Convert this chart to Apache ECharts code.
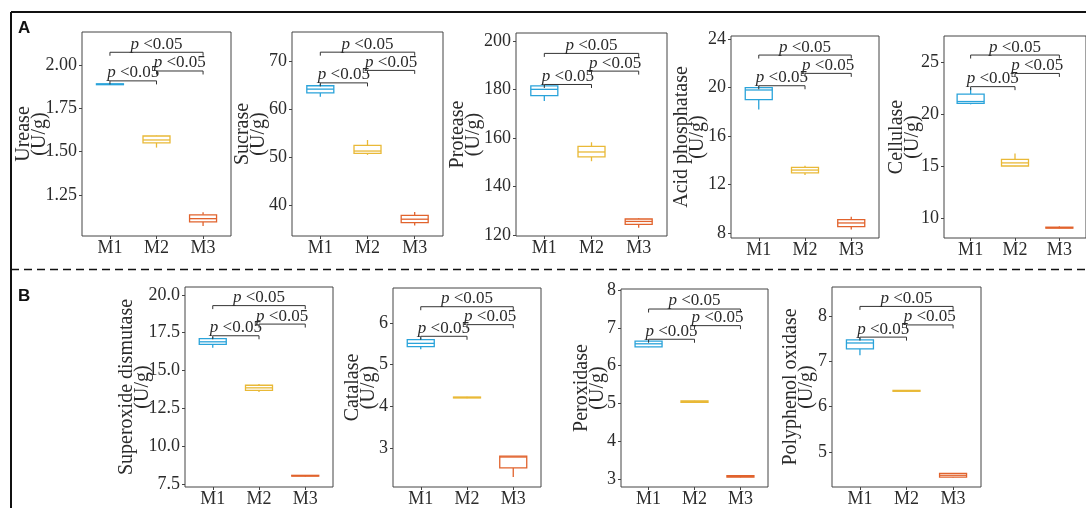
<!DOCTYPE html>
<html>
<head>
<meta charset="utf-8">
<script src="https://cdn.jsdelivr.net/npm/echarts@6/dist/echarts.min.js"></script>
<style>
html,body{margin:0;padding:0;background:#fff;}
#chart{width:1086px;height:508px;}
</style>
</head>
<body>
<div id="chart"></div>
<script>
// ---------- data ----------
const categories = ['M1', 'M2', 'M3'];

// box stats per group: [min, Q1, median, Q3, max]
const ureaseBox = [[1.885, 1.886, 1.888, 1.891, 1.893], [1.523, 1.55, 1.567, 1.59, 1.592], [1.07, 1.095, 1.113, 1.135, 1.15]];
const sucraseBox = [[62.5, 63.3, 64.1, 64.8, 65.2], [50.4, 50.7, 51.2, 52.4, 53.5], [35.7, 36.3, 37.0, 37.8, 38.5]];
const proteaseBox = [[175.2, 177.4, 180.0, 181.4, 181.8], [150.4, 152.2, 154.2, 156.5, 158.2], [123.0, 124.4, 125.6, 126.6, 126.9]];
const acidPhosBox = [[18.2, 19.0, 19.8, 20.0, 20.1], [12.8, 12.97, 13.2, 13.42, 13.55], [8.3, 8.54, 8.84, 9.11, 9.36]];
const cellulaseBox = [[20.93, 21.03, 21.2, 21.92, 22.5], [14.98, 15.0, 15.3, 15.64, 16.2], [9.0, 9.03, 9.07, 9.12, 9.2]];
const sodBox = [[16.5, 16.73, 16.9, 17.11, 17.22], [13.58, 13.69, 13.86, 14.03, 14.12], [8.0, 8.03, 8.05, 8.08, 8.1]];
const catalaseBox = [[5.37, 5.43, 5.51, 5.60, 5.65], [4.19, 4.2, 4.21, 4.22, 4.23], [2.30, 2.52, 2.78, 2.80, 2.80]];
const peroxidaseBox = [[6.49, 6.5, 6.58, 6.65, 6.68], [5.02, 5.03, 5.05, 5.07, 5.08], [3.04, 3.05, 3.07, 3.09, 3.1]];
const ppoBox = [[7.14, 7.28, 7.41, 7.48, 7.52], [6.33, 6.34, 6.35, 6.36, 6.36], [4.43, 4.44, 4.48, 4.52, 4.53]];

// significance bracket heights: [M1-M2, M2-M3, M1-M3]
const ureaseBr = [1.908, 1.965, 2.073];
const sucraseBr = [65.4, 68.0, 71.8];
const proteaseBr = [182.0, 187.5, 194.8];
const acidPhosBr = [20.15, 21.17, 22.68];
const cellulaseBr = [22.63, 23.9, 25.67];
const sodBr = [17.3, 18.07, 19.29];
const catalaseBr = [5.68, 5.96, 6.39];
const peroxidaseBr = [6.70, 7.06, 7.5];
const ppoBr = [7.54, 7.81, 8.22];

// tick labels
const ureaseTicks = ['1.25', '1.50', '1.75', '2.00'];
const sucraseTicks = ['40', '50', '60', '70'];
const proteaseTicks = ['120', '140', '160', '180', '200'];
const acidPhosTicks = ['8', '12', '16', '20', '24'];
const cellulaseTicks = ['10', '15', '20', '25'];
const sodTicks = ['7.5', '10.0', '12.5', '15.0', '17.5', '20.0'];
const catalaseTicks = ['3', '4', '5', '6'];
const peroxidaseTicks = ['3', '4', '5', '6', '7', '8'];
const ppoTicks = ['5', '6', '7', '8'];

// ---------- layout / style ----------
const colors = ['#2aa3da', '#e9b937', '#e1632d'];
const SERIF = '"Liberation Serif", "Times New Roman", serif';
const TXT = '#2b2b2b';

const panels = [
  {title: 'Urease', box: ureaseBox, br: ureaseBr, ticks: ureaseTicks, min: 1.013, max: 2.19, grid: {left: 82, top: 32, width: 149, height: 204}, gap: 34},
  {title: 'Sucrase', box: sucraseBox, br: sucraseBr, ticks: sucraseTicks, min: 33.5, max: 76.0, grid: {left: 292, top: 32, width: 151, height: 204}, gap: 25},
  {title: 'Protease', box: proteaseBox, br: proteaseBr, ticks: proteaseTicks, min: 119.6, max: 203.2, grid: {left: 516, top: 33, width: 151, height: 203}, gap: 34},
  {title: 'Acid phosphatase', box: acidPhosBox, br: acidPhosBr, ticks: acidPhosTicks, min: 7.6, max: 24.25, grid: {left: 731, top: 36, width: 148, height: 202}, gap: 25},
  {title: 'Cellulase', box: cellulaseBox, br: cellulaseBr, ticks: cellulaseTicks, min: 8.08, max: 27.5, grid: {left: 944, top: 36, width: 150, height: 202}, gap: 23},
  {title: 'Superoxide dismutase', box: sodBox, br: sodBr, ticks: sodTicks, min: 7.31, max: 20.52, grid: {left: 185, top: 287, width: 148, height: 205}, gap: 34},
  {title: 'Catalase', box: catalaseBox, br: catalaseBr, ticks: catalaseTicks, min: 2.06, max: 6.84, grid: {left: 393, top: 288, width: 148, height: 204}, gap: 16},
  {title: 'Peroxidase', box: peroxidaseBox, br: peroxidaseBr, ticks: peroxidaseTicks, min: 2.79, max: 8.03, grid: {left: 621, top: 289, width: 147, height: 202}, gap: 15},
  {title: 'Polyphenol oxidase', box: ppoBox, br: ppoBr, ticks: ppoTicks, min: 4.22, max: 8.65, grid: {left: 832, top: 287, width: 149, height: 204}, gap: 17}
];

const grids = [], xAxes = [], yAxes = [], series = [];

function renderBox(params, api) {
  const x = api.value(0);
  const lo = api.coord([x, api.value(1)]);
  const q1 = api.coord([x, api.value(2)]);
  const md = api.coord([x, api.value(3)]);
  const q3 = api.coord([x, api.value(4)]);
  const hi = api.coord([x, api.value(5)]);
  const hw = 13.5;
  const c = colors[params.dataIndex];
  const st = {stroke: c, lineWidth: 1.3, fill: null};
  return {
    type: 'group',
    children: [
      {type: 'line', shape: {x1: hi[0], y1: hi[1], x2: q3[0], y2: q3[1]}, style: st},
      {type: 'line', shape: {x1: q1[0], y1: q1[1], x2: lo[0], y2: lo[1]}, style: st},
      {type: 'rect', shape: {x: q3[0] - hw, y: q3[1], width: hw * 2, height: Math.max(q1[1] - q3[1], 0.5)}, style: {stroke: c, lineWidth: 1.3, fill: '#fff'}},
      {type: 'line', shape: {x1: md[0] - hw, y1: md[1], x2: md[0] + hw, y2: md[1]}, style: st}
    ]
  };
}

function renderBracket(params, api) {
  const y = api.value(2);
  const a = api.coord([api.value(0), y]);
  const b = api.coord([api.value(1), y]);
  const t = 3.5;
  return {
    type: 'group',
    children: [
      {type: 'polyline', shape: {points: [[a[0], a[1] + t], [a[0], a[1]], [b[0], b[1]], [b[0], b[1] + t]]},
       style: {stroke: '#333', lineWidth: 1, fill: null}},
      {type: 'text', x: (a[0] + b[0]) / 2, y: a[1] + 0.5,
       style: {text: '{i|p} {n|<0.05}', align: 'center', verticalAlign: 'bottom', fill: TXT,
         font: '17px ' + SERIF,
         rich: {i: {fontStyle: 'italic', fontSize: 17, fontFamily: SERIF, fill: TXT},
                n: {fontSize: 17, fontFamily: SERIF, fill: TXT}}}}
    ]
  };
}

panels.forEach((p, k) => {
  grids.push(Object.assign({show: true, borderColor: '#444', borderWidth: 1, backgroundColor: '#fff'}, p.grid));
  xAxes.push({
    type: 'value', gridIndex: k, min: 0.4, max: 3.6,
    axisLine: {show: false}, splitLine: {show: false},
    axisTick: {show: true, length: 3, lineStyle: {color: '#444'}, customValues: [1, 2, 3]},
    axisLabel: {customValues: [1, 2, 3], formatter: v => categories[Math.round(v) - 1] || '',
      fontFamily: SERIF, fontSize: 18, color: TXT, margin: 3}
  });
  const tickVals = p.ticks.map(Number);
  yAxes.push({
    type: 'value', gridIndex: k, min: p.min, max: p.max,
    name: p.title + '\n(U/g)', nameLocation: 'middle', nameRotate: 90, nameGap: p.gap,
    nameMoveOverlap: false,
    nameTextStyle: {fontFamily: SERIF, fontSize: 20, lineHeight: 16, color: TXT, align: 'center'},
    axisLine: {show: false}, splitLine: {show: false},
    axisTick: {show: true, length: 3, lineStyle: {color: '#444'}, customValues: tickVals},
    axisLabel: {customValues: tickVals, formatter: v => {
        const i = tickVals.findIndex(t => Math.abs(t - v) < 1e-9);
        return i >= 0 ? p.ticks[i] : '';
      }, fontFamily: SERIF, fontSize: 18, color: TXT, margin: 5}
  });
  series.push({
    type: 'custom', xAxisIndex: k, yAxisIndex: k, renderItem: renderBox,
    encode: {x: 0, y: [1, 2, 3, 4, 5]},
    data: p.box.map((s, i) => [i + 1].concat(s)), silent: true
  });
  series.push({
    type: 'custom', xAxisIndex: k, yAxisIndex: k, renderItem: renderBracket,
    encode: {x: [0, 1], y: 2},
    data: [[1, 2, p.br[0]], [2, 3, p.br[1]], [1, 3, p.br[2]]], silent: true, clip: false
  });
});

const chart = echarts.init(document.getElementById('chart'), null, {renderer: 'canvas'});
chart.setOption({
  backgroundColor: '#fff',
  animation: false,
  grid: grids, xAxis: xAxes, yAxis: yAxes, series: series,
  graphic: [
    {type: 'line', shape: {x1: 11, y1: 12, x2: 1086, y2: 12}, style: {stroke: '#111', lineWidth: 2}, z: 10},
    {type: 'line', shape: {x1: 11, y1: 12, x2: 11, y2: 508}, style: {stroke: '#111', lineWidth: 2}, z: 10},
    {type: 'line', shape: {x1: 11, y1: 269.5, x2: 1086, y2: 269.5}, style: {stroke: '#111', lineWidth: 1.6, lineDash: [8, 5]}, z: 10},
    {type: 'text', x: 18, y: 28.5, style: {text: 'A', font: 'bold 17px "Liberation Sans", Arial, sans-serif', fill: '#111', verticalAlign: 'middle'}, z: 10},
    {type: 'text', x: 18, y: 296, style: {text: 'B', font: 'bold 17px "Liberation Sans", Arial, sans-serif', fill: '#111', verticalAlign: 'middle'}, z: 10}
  ]
});
</script>
</body>
</html>
